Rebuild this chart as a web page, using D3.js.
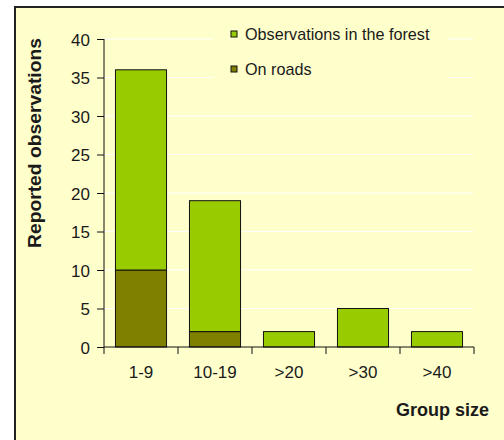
<!DOCTYPE html>
<html>
<head>
<meta charset="utf-8">
<script src="https://cdnjs.cloudflare.com/ajax/libs/d3/7.8.5/d3.min.js"></script>
<style>
  body { margin: 0; background: #fff; }
  svg text { font-family: Arial, "Liberation Sans", sans-serif; fill: #1a1a1a; }
</style>
</head>
<body>
<svg width="504" height="440"></svg>
<script>
let groups = ["1-9", "10-19", ">20", ">30", ">40"]
let onRoads = [10, 2, 0, 0, 0]
let inForest = [26, 17, 2, 5, 2]
let yTicks = [0, 5, 10, 15, 20, 25, 30, 35, 40]
let seriesNames = ["Observations in the forest", "On roads"]
let colors = { forest: "#99cc00", roads: "#808000" }

let svg = d3.select("svg")

// frame
svg.append("rect")
    .attr("x", 15).attr("y", 7)
    .attr("width", 500).attr("height", 450)
    .attr("fill", "#ffffcc")
    .attr("stroke", "#222")
    .attr("stroke-width", 2)

let x = d3.scaleBand().domain(groups).range([104, 474]).paddingInner(0.31).paddingOuter(0.155)
let y = d3.scaleLinear().domain([0, 40]).range([347, 39])

// gridlines
svg.append("g")
    .selectAll("line")
    .data(yTicks.filter(d => d > 0))
    .join("line")
    .attr("x1", 104).attr("x2", 473)
    .attr("y1", d => y(d)).attr("y2", d => y(d))
    .attr("stroke", "#ffffff")
    .attr("stroke-width", 1.2)

// stacked bars
let rows = groups.map((g, i) => ({ group: g, roads: onRoads[i], forest: inForest[i] }))
let stacked = d3.stack().keys(["roads", "forest"])(rows)

svg.append("g")
    .selectAll("g")
    .data(stacked)
    .join("g")
    .attr("fill", d => colors[d.key])
    .selectAll("rect")
    .data(d => d.filter(p => p[1] - p[0] > 0))
    .join("rect")
    .attr("x", d => x(d.data.group))
    .attr("width", x.bandwidth())
    .attr("y", d => y(d[1]))
    .attr("height", d => y(d[0]) - y(d[1]))
    .attr("stroke", "#111")
    .attr("stroke-width", 1)

// y axis
let yAxis = d3.axisLeft(y).tickValues(yTicks).tickSize(7).tickPadding(7)
let gy = svg.append("g").attr("transform", "translate(104,0)").call(yAxis)
gy.select(".domain").attr("stroke", "#111").attr("d", "M0," + y(40) + "V" + y(0))
gy.selectAll(".tick line").attr("stroke", "#111")
gy.selectAll("text").style("font-size", "17px").attr("fill", "#1a1a1a").attr("dy", "0.36em")

// x axis
let xAxis = d3.axisBottom(x).tickSize(0).tickPadding(19)
let gx = svg.append("g").attr("transform", "translate(0,347)").call(xAxis)
gx.select(".domain").attr("stroke", "#111").attr("d", "M104,0H474")
gx.selectAll("text").style("font-size", "17px").attr("fill", "#1a1a1a")
let bounds = groups.map(g => x(g) - x.step() * x.paddingInner() / 2)
bounds.push(474)
gx.selectAll(".bound")
    .data(bounds)
    .join("line")
    .attr("class", "bound")
    .attr("x1", d => d).attr("x2", d => d)
    .attr("y1", 0).attr("y2", 7)
    .attr("stroke", "#111")

// axis titles
svg.append("text")
    .attr("transform", "translate(41,143) rotate(-90)")
    .attr("text-anchor", "middle")
    .attr("textLength", 210)
    .attr("lengthAdjust", "spacingAndGlyphs")
    .style("font-size", "17.5px")
    .style("font-weight", "bold")
    .text("Reported observations")

svg.append("text")
    .attr("x", 489).attr("y", 416)
    .attr("text-anchor", "end")
    .style("font-size", "18px")
    .style("font-weight", "bold")
    .text("Group size")

// legend
let legend = svg.append("g")
legend.append("rect")
    .attr("x", 213).attr("y", 18)
    .attr("width", 235).attr("height", 72)
    .attr("fill", "#ffffcc")
let legendItems = legend.selectAll(".item")
    .data(seriesNames)
    .join("g")
    .attr("class", "item")
    .attr("transform", (d, i) => "translate(231," + (31 + i * 35) + ")")
legendItems.append("rect")
    .attr("width", 6).attr("height", 6)
    .attr("fill", (d, i) => i === 0 ? colors.forest : colors.roads)
    .attr("stroke", "#111")
legendItems.append("text")
    .attr("x", 14).attr("y", 3)
    .attr("dy", "0.36em")
    .style("font-size", "16.2px")
    .text(d => d)
</script>
</body>
</html>
